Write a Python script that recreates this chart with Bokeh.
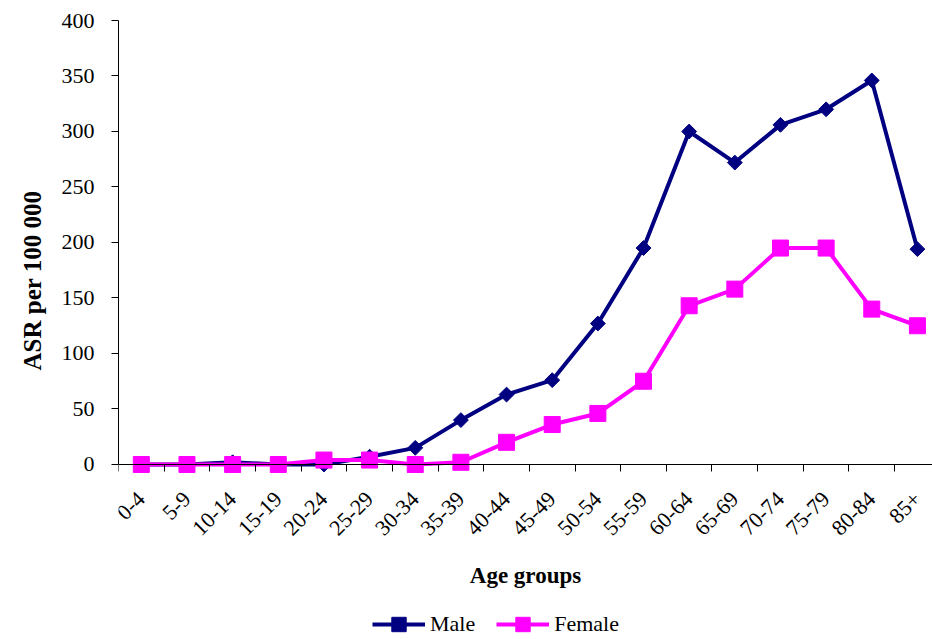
import math
from bokeh.plotting import figure
from bokeh.models import FixedTicker, Title, Legend, LegendItem, Range1d
from bokeh.embed import file_html
from bokeh.resources import INLINE

age_groups = ["0-4", "5-9", "10-14", "15-19", "20-24", "25-29", "30-34", "35-39",
              "40-44", "45-49", "50-54", "55-59", "60-64", "65-69", "70-74",
              "75-79", "80-84", "85+"]
male = [0, 0, 2, 0, 0, 7, 15, 40, 63, 76, 127, 195, 300, 272, 306, 320, 346, 194]
female = [0, 0, 0, 0, 4, 4, 0, 2, 20, 36, 46, 75, 143, 158, 195, 195, 140, 125]
y_ticks = [0, 50, 100, 150, 200, 250, 300, 350, 400]

FONT = "Liberation Serif"
x = list(range(len(age_groups)))

# frame runs from y=20 to the bottom of the page; value 0 sits 175 px above the bottom
p = figure(frame_width=814, frame_height=619, output_backend="svg", toolbar_location=None,
           x_range=Range1d(-0.5, 17.33), y_range=Range1d(-157.66, 400),
           min_border_left=118, min_border_right=0, min_border_top=20,
           min_border_bottom=0)
p.outline_line_color = None
p.xgrid.visible = False
p.ygrid.visible = False
p.background_fill_color = "white"
p.border_fill_color = "white"

# x axis drawn at value 0
p.xaxis.fixed_location = 0
p.xaxis.ticker = FixedTicker(ticks=x, minor_ticks=[i - 0.5 for i in range(len(age_groups) + 1)])
p.xaxis.major_label_overrides = {i: lbl for i, lbl in enumerate(age_groups)}
p.xaxis.major_tick_line_color = None
p.xaxis.major_tick_out = 7
p.xaxis.major_tick_in = 0
p.xaxis.minor_tick_line_color = "black"
p.xaxis.minor_tick_out = 7
p.xaxis.minor_tick_in = 0
p.xaxis.major_label_orientation = math.pi / 4
p.xaxis.major_label_standoff = 24
p.xaxis.axis_label = "Age groups"
p.xaxis.axis_label_standoff = 18
p.xaxis.axis_label_text_font = FONT
p.xaxis.axis_label_text_font_size = "23px"
p.xaxis.axis_label_text_font_style = "bold"
p.xaxis.axis_label_text_color = "black"

# y axis
p.yaxis.bounds = (0, 400)
p.yaxis.ticker = FixedTicker(ticks=y_ticks, minor_ticks=[])
p.yaxis.major_tick_out = 7
p.yaxis.major_tick_in = 0
p.yaxis.major_label_standoff = 17
p.yaxis.minor_tick_line_color = None

for ax in (p.xaxis, p.yaxis):
    ax.axis_line_color = "black"
    ax.major_label_text_font = FONT
    ax.major_label_text_font_size = "22px"
    ax.major_label_text_color = "black"

ytitle = Title(text="ASR per 100 000", align="left", offset=269,
               text_font=FONT, text_font_size="25px", text_font_style="bold",
               text_color="black", standoff=25)
p.add_layout(ytitle, "left")

lm = p.line(x, male, line_color="#000080", line_width=4)
sm = p.scatter(x, male, marker="square", angle=math.pi / 4, size=10.5,
               fill_color="#000080", line_color="#000080")
lf = p.line(x, female, line_color="#FF00FF", line_width=4)
sf = p.scatter(x, female, marker="square", size=16,
               fill_color="#FF00FF", line_color="#FF00FF")

legend = Legend(items=[LegendItem(label="Male", renderers=[lm, sm]),
                       LegendItem(label="Female", renderers=[lf, sf])],
                orientation="horizontal", location=(254, -3),
                border_line_color=None, background_fill_alpha=0,
                padding=0, margin=0, spacing=21, label_standoff=5,
                glyph_width=53, glyph_height=36,
                label_text_font=FONT, label_text_font_size="22px",
                label_text_color="black")
p.add_layout(legend, "center")

open("out.html", "w").write(file_html(p, INLINE))
